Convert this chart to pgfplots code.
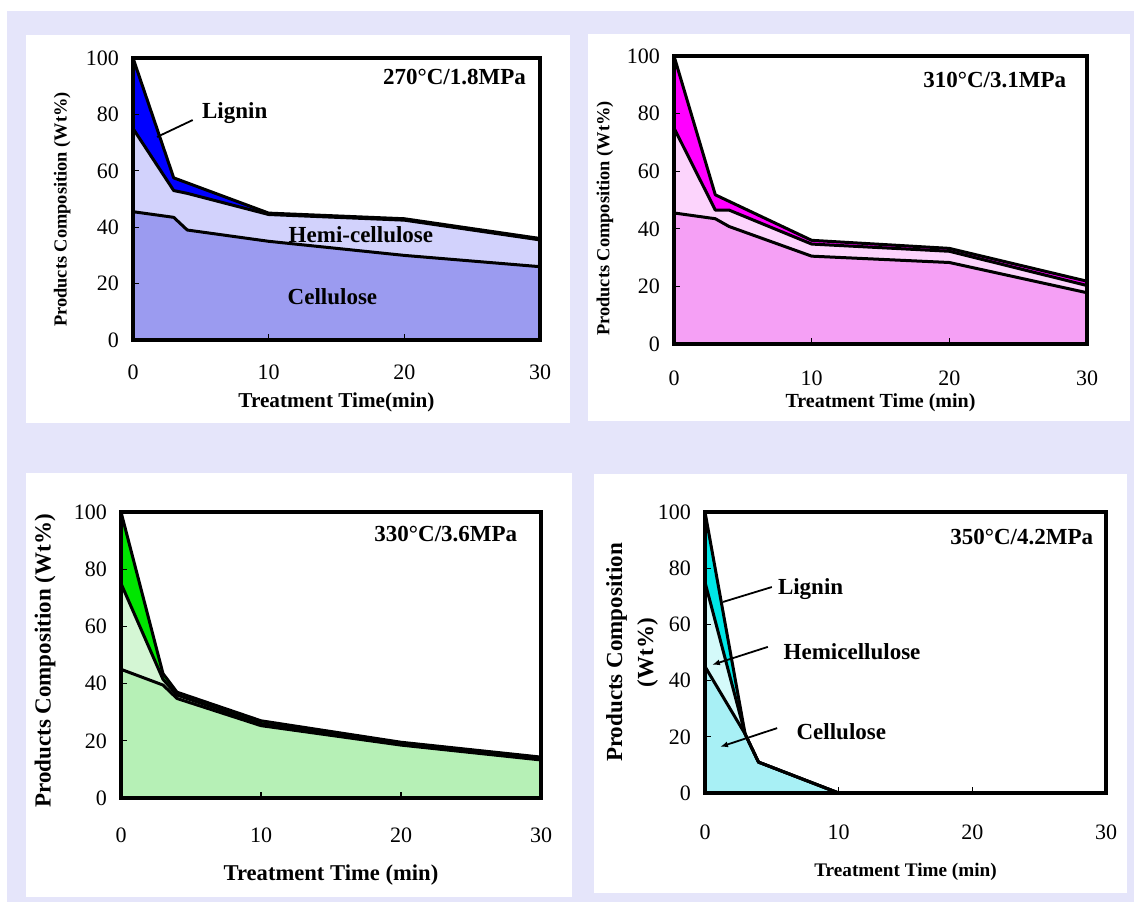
\documentclass[border=0pt]{standalone}
\usepackage{fontspec}
\setmainfont{Liberation Serif}
\usepackage{pgfplots}
\pgfplotsset{compat=1.18}
\usetikzlibrary{arrows.meta}

\definecolor{lavbg}{RGB}{229,229,250}
\definecolor{ligA}{RGB}{0,0,255}
\definecolor{hemA}{RGB}{210,210,252}
\definecolor{celA}{RGB}{155,155,240}
\definecolor{ligB}{RGB}{255,0,255}
\definecolor{hemB}{RGB}{252,212,252}
\definecolor{celB}{RGB}{245,160,245}
\definecolor{ligC}{RGB}{0,230,0}
\definecolor{hemC}{RGB}{212,246,212}
\definecolor{celC}{RGB}{182,240,182}
\definecolor{ligD}{RGB}{0,230,230}
\definecolor{hemD}{RGB}{212,250,250}
\definecolor{celD}{RGB}{168,240,245}

\tikzset{note/.style={font=\fontsize{11.5}{13}\selectfont\bfseries}}
\pgfplotsset{
  panel/.style={
    scale only axis,
    anchor=south west,
    xmin=0, xmax=30, ymin=0, ymax=100,
    xtick={0,10,20,30}, ytick={0,20,40,60,80,100},
    tick pos=left, tick align=inside,
    major tick length=3pt,
    tick style={black, line width=0.6pt},
    axis line style={black, line width=1.6pt},
    axis on top,
    ticklabel style={font=\fontsize{11}{12}\selectfont},
    /pgf/number format/assume math mode=true,
    yticklabel style={xshift=-3.5pt},
  },
  bound/.style={black, line width=1.5pt, line join=round, no markers},
}

\begin{document}
\begin{tikzpicture}
\fill[white] (0pt,0pt) rectangle (567pt,451pt);
\fill[lavbg] (3.5pt,0pt) rectangle (567pt,445.5pt);
\fill[white] (13pt,239.5pt) rectangle (285pt,433.5pt);
\fill[white] (294pt,240.5pt) rectangle (565pt,434pt);
\fill[white] (13pt,2.5pt) rectangle (286pt,214.5pt);
\fill[white] (297pt,4.5pt) rectangle (563.5pt,214pt);

% 270 C / 1.8 MPa
\begin{axis}[panel,
  at={(66.5pt,281pt)}, width=203.5pt, height=141pt,
  xticklabel style={yshift=-9pt},
  xlabel={Treatment Time(min)},
  ylabel={Products Composition (Wt\%)},
  every axis x label/.style={at={(axis description cs:0.5,-0.22)}, anchor=center,
    font=\fontsize{10.6}{12}\selectfont\bfseries},
  every axis y label/.style={at={(axis description cs:-0.174,0.463)}, rotate=90, anchor=center,
    font=\fontsize{9.2}{11}\selectfont\bfseries},
]
\addplot[fill=celA, draw=none] coordinates {(0,45.5) (3,43.5) (4,39) (10,35) (20,30) (30,26)} \closedcycle;
\addplot[fill=hemA, draw=none] coordinates {(0,75) (3,53) (4,52) (10,44.5) (20,42.5) (30,35.5)
  (30,26) (20,30) (10,35) (4,39) (3,43.5) (0,45.5)} -- cycle;
\addplot[fill=ligA, draw=none] coordinates {(0,100) (3,57.5) (10,45) (20,43) (30,36)
  (30,35.5) (20,42.5) (10,44.5) (4,52) (3,53) (0,75)} -- cycle;
\addplot[bound] coordinates {(0,100) (3,57.5) (10,45) (20,43) (30,36)};
\addplot[bound] coordinates {(0,75) (3,53) (4,52) (10,44.5) (20,42.5) (30,35.5)};
\addplot[bound] coordinates {(0,45.5) (3,43.5) (4,39) (10,35) (20,30) (30,26)};
\node[note] at (axis cs:23.7,93.3) {270\textdegree C/1.8MPa};
\node[note] at (axis cs:7.5,80.5) {Lignin};
\draw[line width=0.9pt] (axis cs:1.77,72) -- (axis cs:4.4,78);
\node[note] at (axis cs:16.8,37.2) {Hemi-cellulose};
\node[note] at (axis cs:14.7,15.2) {Cellulose};
\end{axis}

% 310 C / 3.1 MPa
\begin{axis}[panel,
  at={(337pt,279pt)}, width=206.5pt, height=144pt,
  xticklabel style={yshift=-10pt},
  xlabel={Treatment Time (min)},
  ylabel={Products Composition (Wt\%)},
  every axis x label/.style={at={(axis description cs:0.5,-0.205)}, anchor=center,
    font=\fontsize{10}{12}\selectfont\bfseries},
  every axis y label/.style={at={(axis description cs:-0.167,0.436)}, rotate=90, anchor=center,
    font=\fontsize{9.2}{11}\selectfont\bfseries},
]
\addplot[fill=celB, draw=none] coordinates {(0,45.5) (3,43.5) (4,40.8) (10,30.5) (20,28.3) (30,17.8)} \closedcycle;
\addplot[fill=hemB, draw=none] coordinates {(0,75) (3,46.5) (4,46.5) (10,34.7) (20,32.2) (30,20.3)
  (30,17.8) (20,28.3) (10,30.5) (4,40.8) (3,43.5) (0,45.5)} -- cycle;
\addplot[fill=ligB, draw=none] coordinates {(0,100) (3,51.8) (10,36) (20,33.2) (30,21.8)
  (30,20.3) (20,32.2) (10,34.7) (4,46.5) (3,46.5) (0,75)} -- cycle;
\addplot[bound] coordinates {(0,100) (3,51.8) (10,36) (20,33.2) (30,21.8)};
\addplot[bound] coordinates {(0,75) (3,46.5) (4,46.5) (10,34.7) (20,32.2) (30,20.3)};
\addplot[bound] coordinates {(0,45.5) (3,43.5) (4,40.8) (10,30.5) (20,28.3) (30,17.8)};
\node[note] at (axis cs:23.3,91.7) {310\textdegree C/3.1MPa};
\end{axis}

% 330 C / 3.6 MPa
\begin{axis}[panel,
  at={(60.5pt,52pt)}, width=210pt, height=143pt,
  xticklabel style={yshift=-11.5pt},
  xlabel={Treatment Time (min)},
  ylabel={Products Composition (Wt\%)},
  every axis x label/.style={at={(axis description cs:0.5,-0.269)}, anchor=center,
    font=\fontsize{11.3}{13}\selectfont\bfseries},
  every axis y label/.style={at={(axis description cs:-0.181,0.479)}, rotate=90, anchor=center,
    font=\fontsize{11.5}{13}\selectfont\bfseries},
]
\addplot[fill=celC, draw=none] coordinates {(0,45) (3,39.5) (4,34.8) (10,25.3) (20,18.5) (30,13.3)} \closedcycle;
\addplot[fill=hemC, draw=none] coordinates {(0,75) (3,41.5) (4,36) (10,26) (20,19) (30,13.8)
  (30,13.3) (20,18.5) (10,25.3) (4,34.8) (3,39.5) (0,45)} -- cycle;
\addplot[fill=ligC, draw=none] coordinates {(0,100) (3,43.5) (4,37) (10,27) (20,19.5) (30,14.3)
  (30,13.8) (20,19) (10,26) (4,36) (3,41.5) (0,75)} -- cycle;
\addplot[bound] coordinates {(0,100) (3,43.5) (4,37) (10,27) (20,19.5) (30,14.3)};
\addplot[bound] coordinates {(0,75) (3,41.5) (4,36) (10,26) (20,19) (30,13.8)};
\addplot[bound] coordinates {(0,45) (3,39.5) (4,34.8) (10,25.3) (20,18.5) (30,13.3)};
\node[note] at (axis cs:23.2,92.3) {330\textdegree C/3.6MPa};
\end{axis}

% 350 C / 4.2 MPa
\begin{axis}[panel,
  at={(352.5pt,54.5pt)}, width=200.5pt, height=140.5pt,
  xticklabel style={yshift=-12.5pt},
  xlabel={Treatment Time (min)},
  ylabel={Products Composition\\(Wt\%)},
  every axis x label/.style={at={(axis description cs:0.5,-0.281)}, anchor=center,
    font=\fontsize{9.6}{12}\selectfont\bfseries},
  every axis y label/.style={at={(axis description cs:-0.182,0.5)}, rotate=90, anchor=center,
    align=center, font=\fontsize{11.5}{15.5}\selectfont\bfseries},
]
\addplot[fill=celD, draw=none] coordinates {(0,45) (3,21) (4,11) (10,0)} \closedcycle;
\addplot[fill=hemD, draw=none] coordinates {(0,75) (3,21) (0,45)} -- cycle;
\addplot[fill=ligD, draw=none] coordinates {(0,100) (3,21) (0,75)} -- cycle;
\addplot[bound] coordinates {(0,100) (3,21) (4,11) (10,0) (30,0)};
\addplot[bound] coordinates {(0,75) (3,21) (4,11) (10,0)};
\addplot[bound] coordinates {(0,45) (3,21) (4,11) (10,0)};
\node[note] at (axis cs:23.7,91.1) {350\textdegree C/4.2MPa};
\node[note] at (axis cs:7.9,72.6) {Lignin};
\draw[line width=0.9pt] (axis cs:1.35,68) -- (axis cs:5.0,73.3);
\node[note] at (axis cs:11.0,50.2) {Hemicellulose};
\draw[line width=0.9pt, -{Latex[length=4pt,width=3pt]}] (axis cs:4.7,52) -- (axis cs:0.52,45.6);
\node[note] at (axis cs:10.2,22) {Cellulose};
\draw[line width=0.9pt, -{Latex[length=4pt,width=3pt]}] (axis cs:5.4,23.1) -- (axis cs:1.12,16.4);
\end{axis}
\end{tikzpicture}
\end{document}
